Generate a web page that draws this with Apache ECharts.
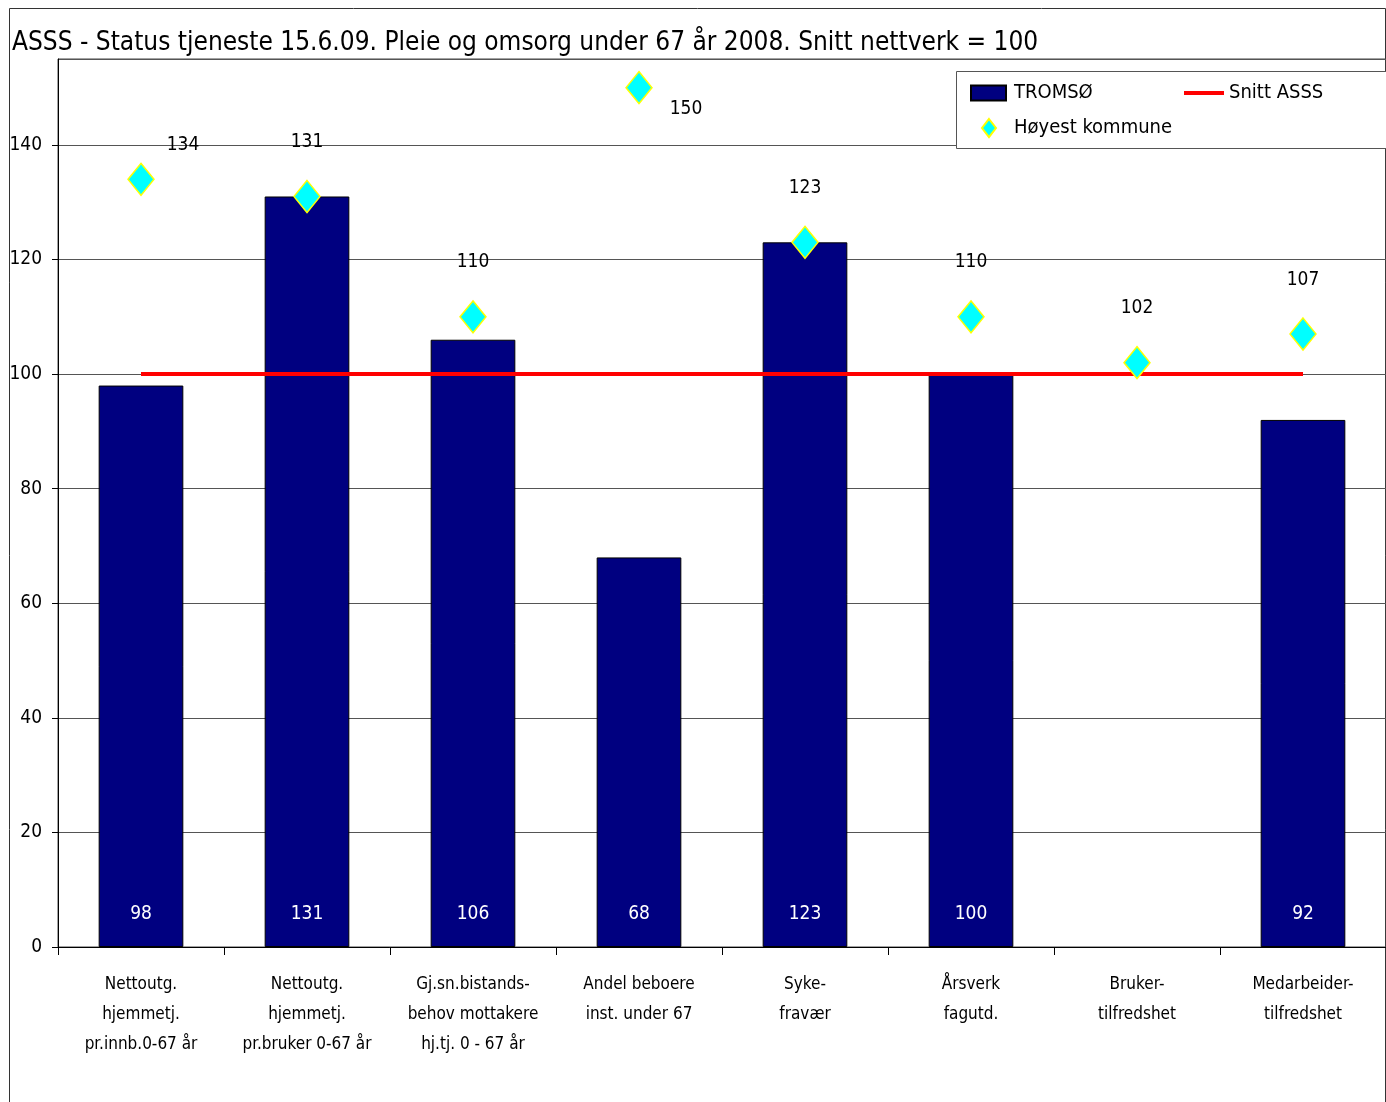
<!DOCTYPE html>
<html>
<head>
<meta charset="utf-8">
<script src="https://cdn.jsdelivr.net/npm/echarts@6/dist/echarts.min.js"></script>
<style>
html,body{margin:0;padding:0;background:#fff;}
#chart{width:1386px;height:1102px;}
</style>
</head>
<body>
<div id="chart"></div>
<script>
var titleText = 'ASSS - Status tjeneste 15.6.09. Pleie og omsorg under 67 år 2008. Snitt nettverk = 100';
var categories = [
  'Nettoutg.\nhjemmetj.\npr.innb.0-67 år',
  'Nettoutg.\nhjemmetj.\npr.bruker 0-67 år',
  'Gj.sn.bistands-\nbehov mottakere\nhj.tj. 0 - 67 år',
  'Andel beboere\ninst. under 67',
  'Syke-\nfravær',
  'Årsverk\nfagutd.',
  'Bruker-\ntilfredshet',
  'Medarbeider-\ntilfredshet'
];
var tromsoValues = [98, 131, 106, 68, 123, 100, null, 92];
var snittValues = [100, 100, 100, 100, 100, 100, 100, 100];
var hoyestValues = [134, 131, 110, 150, 123, 110, 102, 107];
var yTicks = [0, 20, 40, 60, 80, 100, 120, 140];

var FONT = '"Liberation Sans Narrow", "Arial Narrow", "DejaVu Sans Condensed", sans-serif';

// special label placements for a few diamond labels (by index)
var diamondLabelOverride = {0: [42, -34], 3: [47, 21]};

var hoyestData = hoyestValues.map(function (v, i) {
  var item = {value: v};
  if (diamondLabelOverride[i]) {
    item.label = {position: 'inside', offset: diamondLabelOverride[i], distance: 0};
  }
  return item;
});

var chart = echarts.init(document.getElementById('chart'));
chart.setOption({
  animation: false,
  backgroundColor: '#fff',
  textStyle: {fontFamily: FONT},
  title: {
    text: titleText,
    left: 12, top: 30, padding: 0,
    textStyle: {fontFamily: FONT, fontSize: 26, fontWeight: 'normal', color: '#000'}
  },
  graphic: [
    {type: 'rect', shape: {x: 9.5, y: 8.5, width: 1376, height: 1110}, style: {fill: null, stroke: '#333', lineWidth: 1}, silent: true, z: -1},
    {type: 'rect', shape: {x: 956.5, y: 71.5, width: 440, height: 77}, style: {fill: '#fff', stroke: '#555', lineWidth: 1}, silent: true, z: 5}
  ],
  legend: [
    {data: [{name: 'TROMSØ', icon: 'rect'}], left: 970, top: 83, padding: 0, itemWidth: 35, itemHeight: 15, itemGap: 0, z: 10,
      textStyle: {fontFamily: FONT, fontSize: 20, color: '#000', padding: [0,0,0,3]}},
    {data: [{name: 'Snitt ASSS', icon: 'rect'}], left: 1184, top: 83, padding: 0, itemWidth: 40, itemHeight: 4, z: 10,
      textStyle: {fontFamily: FONT, fontSize: 20, color: '#000', padding: [0,0,0,0]}},
    {data: [{name: 'Høyest kommune', icon: 'diamond'}], left: 981, top: 118, padding: 0, itemWidth: 14, itemHeight: 18, z: 10,
      textStyle: {fontFamily: FONT, fontSize: 20, color: '#000', padding: [0,0,0,13]}}
  ],
  grid: {left: 58, top: 59, right: 0, bottom: 155, show: true, borderColor: '#444', borderWidth: 1, backgroundColor: 'transparent'},
  xAxis: {
    type: 'category',
    data: categories,
    boundaryGap: true,
    axisLine: {lineStyle: {color: '#000', width: 1}},
    axisTick: {show: true, interval: 0, length: 8, lineStyle: {color: '#000'}},
    axisLabel: {interval: 0, margin: 23, fontFamily: FONT, fontSize: 17, lineHeight: 30, color: '#000'},
    splitLine: {show: false}
  },
  yAxis: {
    type: 'value',
    min: 0, max: 155, interval: 20,
    axisLine: {show: true, lineStyle: {color: '#000', width: 1}},
    axisTick: {show: true, length: 6, lineStyle: {color: '#000'}},
    axisLabel: {showMaxLabel: false, margin: 16, fontFamily: FONT, fontSize: 19, color: '#000',
      formatter: function (v) { return yTicks.indexOf(v) >= 0 ? String(v) : ''; }},
    splitLine: {show: true, lineStyle: {color: '#555', width: 1}}
  },
  series: [
    {
      name: 'TROMSØ', type: 'bar', data: tromsoValues,
      barWidth: '51%',
      itemStyle: {color: '#000080', borderColor: '#000', borderWidth: 1},
      label: {show: true, position: 'insideBottom', distance: 23, color: '#fff', fontFamily: FONT, fontSize: 19},
      z: 2
    },
    {
      name: 'Snitt ASSS', type: 'line', data: snittValues,
      symbol: 'none', showSymbol: false,
      lineStyle: {color: '#ff0000', width: 4},
      itemStyle: {color: '#ff0000'},
      z: 3
    },
    {
      name: 'Høyest kommune', type: 'scatter', data: hoyestData,
      symbol: 'diamond', symbolSize: [26, 32],
      itemStyle: {color: '#00ffff', borderColor: '#ffff00', borderWidth: 1.5, opacity: 1},
      label: {show: true, position: 'top', distance: 28, color: '#000', fontFamily: FONT, fontSize: 19},
      z: 4
    }
  ]
});
</script>
</body>
</html>
